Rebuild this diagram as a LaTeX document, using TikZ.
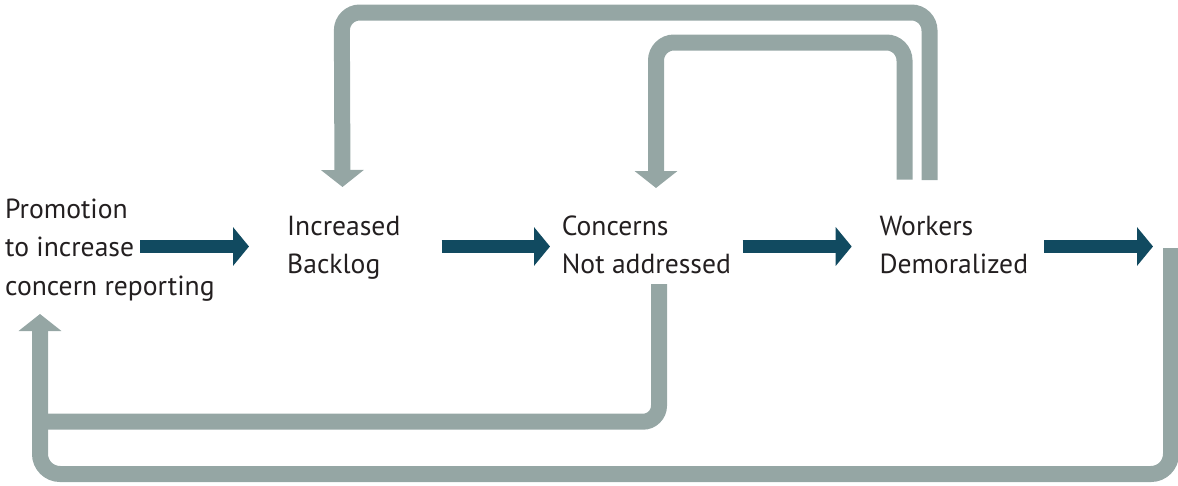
\documentclass[tikz,border=0pt]{standalone}
\usepackage{fontspec}
\setmainfont{PT Sans}
\usetikzlibrary{arrows.meta}
\definecolor{loopgray}{RGB}{149,166,164}
\definecolor{flowblue}{RGB}{17,74,96}
\definecolor{inktext}{RGB}{35,31,32}
\tikzset{
  boxtext/.style={inner sep=0pt, anchor=base west, align=left, text=inktext,
    font=\fontsize{27.6}{38}\selectfont},
  flowarrow/.style={draw=flowblue, line width=13.5pt,
    -{Triangle[width=38pt,length=16pt]}},
  loopline/.style={draw=loopgray, line width=16pt, rounded corners=18pt},
  looparrow/.style={loopline, -{Triangle[width=42pt,length=17pt]}}
}
\begin{document}
\begin{tikzpicture}[x=1pt,y=-1pt]
\useasboundingbox (0,0) rectangle (1178,485);
% texts (anchored at the baseline of the last line)
\node[boxtext, font=\fontsize{27.6}{38.5}\selectfont] (promo) at (5,295) {Promotion\\to increase\\concern reporting};
\node[boxtext, font=\fontsize{27.6}{37.5}\selectfont] (backlog) at (287,273) {Increased\\Backlog};
\node[boxtext, font=\fontsize{27.6}{37.5}\selectfont] (concerns) at (561.7,273) {Concerns\\Not addressed};
\node[boxtext, font=\fontsize{27.6}{37.5}\selectfont] (workers) at (879.3,273) {Workers\\Demoralized};
% flow arrow end points
\coordinate (f1s) at (140,246.5);   \coordinate (f1e) at (249,246.5);
\coordinate (f2s) at (441.7,246.5); \coordinate (f2e) at (550,246.5);
\coordinate (f3s) at (742.7,246.5); \coordinate (f3e) at (851.7,246.5);
\coordinate (f4s) at (1044,246.5);  \coordinate (f4e) at (1153,246.5);
\draw[flowarrow] (f1s) -- (f1e);
\draw[flowarrow] (f2s) -- (f2e);
\draw[flowarrow] (f3s) -- (f3e);
\draw[flowarrow] (f4s) -- (f4e);
% feedback loops
\coordinate (wOut) at (929.5,180);
\coordinate (bIn) at (342.5,187);
\coordinate (wIn) at (904.5,179.5);
\coordinate (cIn) at (656,188);
\coordinate (cOut) at (659,284);
\coordinate (pJoin) at (40,421.7);
\coordinate (eOut) at (1171,248);
\coordinate (pIn) at (40,314);
\draw[looparrow] (wOut) |- (341.8,12.5) -- (bIn);
\draw[looparrow] (wIn) |- (656,42.5) -- (cIn);
\draw[loopline, rounded corners=16pt] (cOut) |- (pJoin);
\draw[looparrow, rounded corners=20pt] (eOut) |- (40,474) -- (pIn);
\end{tikzpicture}
\end{document}
